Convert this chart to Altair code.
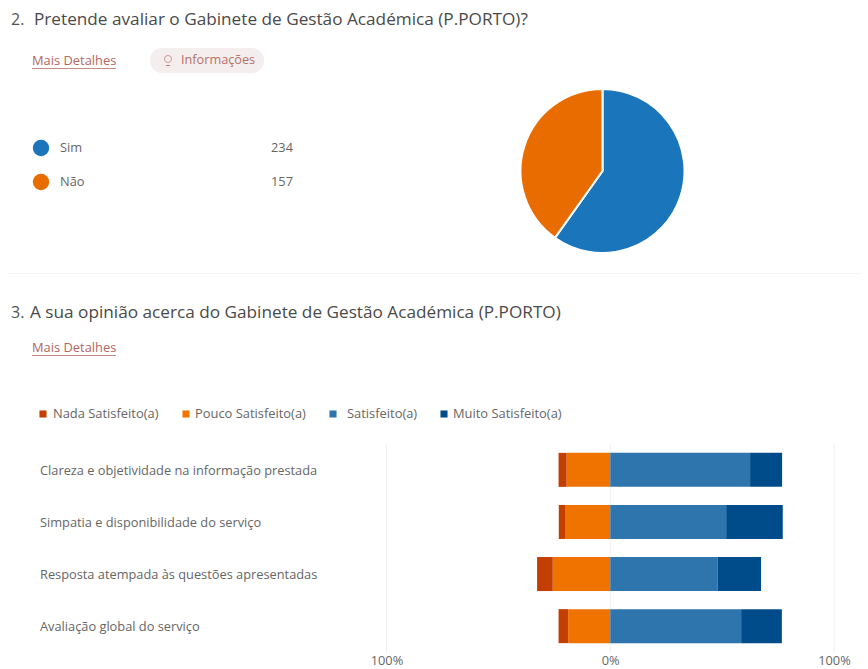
import altair as alt
import pandas as pd

FONT = "Open Sans"
pie_names = ["Sim", "Não"]
pie_values = [234, 157]
levels = ["Nada Satisfeito(a)", "Pouco Satisfeito(a)", "Satisfeito(a)", "Muito Satisfeito(a)"]
items = [
    "Clareza e objetividade na informação prestada",
    "Simpatia e disponibilidade do serviço",
    "Resposta atempada às questões apresentadas",
    "Avaliação global do serviço",
]
nada = [3.6, 2.8, 7.0, 4.3]
pouco = [19.5, 20.2, 25.7, 18.8]
satisfeito = [62.5, 51.8, 48.0, 58.5]
muito = [14.3, 25.3, 19.4, 18.2]

color_scale = alt.Scale(
    domain=pie_names + levels,
    range=["#1b75bb", "#e96c00", "#c43e00", "#f07300", "#2e75ae", "#004b8a"],
)
color = alt.Color("series:N", scale=color_scale, legend=None)

rows = []
for i, item in enumerate(items):
    rows.append({"item": item, "series": levels[1], "value": -pouco[i], "rank": 0})
    rows.append({"item": item, "series": levels[0], "value": -nada[i], "rank": 1})
    rows.append({"item": item, "series": levels[2], "value": satisfeito[i], "rank": 2})
    rows.append({"item": item, "series": levels[3], "value": muito[i], "rank": 3})
bar_df = pd.DataFrame(rows)
pie_df = pd.DataFrame({"series": pie_names, "value": pie_values, "rank": [0, 1]})

x_scale = alt.Scale(domain=[-100, 100], range=[378.5, 826], nice=False, zero=False)
y_scale = alt.Scale(domain=items, range=[436, 644], paddingInner=0.347, paddingOuter=0.17)


def label(text, x, y, size=12.8, col="#666666", align="left", weight=400):
    return alt.Chart(pd.DataFrame({"t": [text]})).mark_text(
        font=FONT, fontSize=size, color=col, align=align, baseline="middle", fontWeight=weight
    ).encode(text="t:N", x=alt.value(x - 8), y=alt.value(y - 8))


def box(x, x2, y, y2, col, radius=0):
    return alt.Chart(pd.DataFrame({"a": [0]})).mark_rect(color=col, cornerRadius=radius).encode(
        x=alt.value(x - 8), x2=alt.value(x2 - 8), y=alt.value(y - 8), y2=alt.value(y2 - 8)
    )


def swatch(series, x, y, shape, size):
    return alt.Chart(pd.DataFrame({"series": [series]})).mark_point(
        shape=shape, filled=True, size=size, opacity=1
    ).encode(x=alt.value(x - 8), y=alt.value(y - 8), color=color)


layers = [
    box(8, 860, 273, 274, "#f4f4f4"),
    label("2.", 11, 20, 16, "#555555"),
    label("Pretende avaliar o Gabinete de Gestão Académica (P.PORTO)?", 34, 20, 17.2, "#4a4a4a"),
    label("Mais Detalhes", 32, 61, 12.9, "#b5655f"),
    box(32, 116, 68, 69, "#c98a85"),
    box(150, 264, 48, 73, "#f4eeee", 12),
    alt.Chart(pd.DataFrame({"a": [0]})).mark_point(
        shape="circle", filled=False, size=50, color="#c07a75", strokeWidth=1
    ).encode(x=alt.value(160), y=alt.value(51)),
    box(166, 170, 65, 66, "#c07a75"),
    label("Informações", 181, 60, 12.7, "#b5706a"),
    swatch("Sim", 41, 148, "circle", 270),
    swatch("Não", 41, 182, "circle", 270),
    label("Sim", 60, 148),
    label("Não", 60, 182),
    label(str(pie_values[0]), 271, 148),
    label(str(pie_values[1]), 271, 182),
    alt.Chart(pie_df).mark_arc(radius=82, stroke="white", strokeWidth=2).encode(
        theta=alt.Theta("value:Q", stack=True),
        order=alt.Order("rank:Q"),
        color=color,
        x=alt.value(594.5),
        y=alt.value(163),
    ),
    label("3.", 11, 313, 16, "#555555"),
    label("A sua opinião acerca do Gabinete de Gestão Académica (P.PORTO)", 30, 313, 17.2, "#4a4a4a"),
    label("Mais Detalhes", 32, 348, 12.9, "#b5655f"),
    box(32, 116, 355, 356, "#c98a85"),
]

for name, sx, tx in zip(levels, [43, 186, 333, 444], [53, 195, 347, 453]):
    layers.append(swatch(name, sx, 414, "square", 50))
    layers.append(label(name, tx, 414, 12.9))

layers.append(
    alt.Chart(pd.DataFrame({"v": [-100, 0, 100]})).mark_rule(color="#f0f0f0", strokeWidth=1).encode(
        x=alt.X(
            "v:Q",
            scale=x_scale,
            title=None,
            axis=alt.Axis(
                values=[-100, 0, 100],
                labelExpr="abs(datum.value) + '%'",
                domain=False,
                ticks=False,
                grid=False,
                labelFlush=False,
                labelFont=FONT,
                labelFontSize=12.8,
                labelColor="#666666",
                labelPadding=6,
            ),
        ),
        y=alt.value(436),
        y2=alt.value(645),
    )
)
layers.append(
    alt.Chart(bar_df).mark_bar().encode(
        x=alt.X("value:Q", scale=x_scale, stack=True, title=None),
        y=alt.Y("item:N", scale=y_scale, sort=items, axis=None),
        color=color,
        order=alt.Order("rank:Q"),
    )
)
layers.append(
    alt.Chart(pd.DataFrame({"item": items})).mark_text(
        font=FONT, fontSize=12.8, color="#666666", align="left", baseline="middle", dy=1
    ).encode(
        text="item:N",
        y=alt.Y("item:N", scale=y_scale, sort=items, axis=None),
        x=alt.value(32),
    )
)

chart = alt.layer(*layers).properties(
    width=852, height=640, padding=0, background="white"
).configure_view(stroke=None)

chart.save("out.html", embed_options={"renderer": "svg", "actions": False})
